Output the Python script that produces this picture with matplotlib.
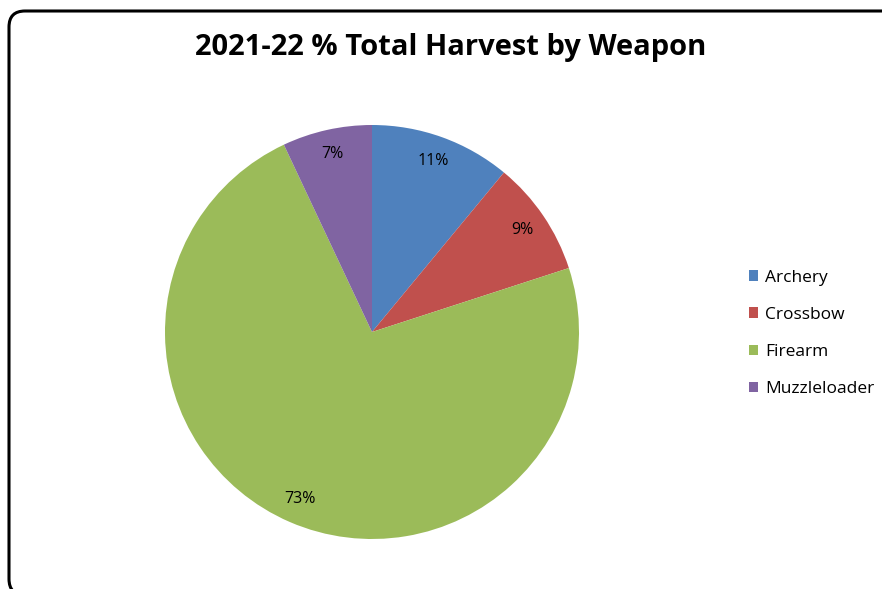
import matplotlib
matplotlib.use("Agg")
import matplotlib.pyplot as plt
from matplotlib.patches import FancyBboxPatch
from matplotlib.transforms import IdentityTransform

weapons = ["Archery", "Crossbow", "Firearm", "Muzzleloader"]
shares = [11, 9, 73, 7]
colors = ["#4F81BD", "#C0504D", "#9BBB59", "#8064A2"]

plt.rcParams['font.family'] = ['Open Sans', 'DejaVu Sans']

W, H = 882, 589
fig = plt.figure(figsize=(W / 100, H / 100), dpi=100)

# rounded frame in pixels, cut off at right and bottom like the screenshot
frame = FancyBboxPatch((9, -6), 892, H - 11 + 6,
                       boxstyle="round,pad=0,rounding_size=16",
                       transform=IdentityTransform(), facecolor="none",
                       edgecolor="black", linewidth=2.2, zorder=-1)
fig.patches.append(frame)

cx, cy, r = 372, 332, 207
ax = fig.add_axes([(cx - r) / W, (H - cy - r) / H, 2 * r / W, 2 * r / H])
wedges, texts, autotexts = ax.pie(shares, colors=colors, startangle=90, counterclock=False,
                                  autopct="%d%%", pctdistance=0.88, radius=1,
                                  textprops={"fontsize": 11.5, "color": "black"})
ax.set_xlim(-1, 1)
ax.set_ylim(-1, 1)
ax.set_aspect("equal")
ax.axis("off")

fig.text(451 / W, 1 - 48 / H, "2021-22 % Total Harvest by Weapon", ha="center", va="center",
         fontsize=21, fontweight="bold")

leg = fig.legend(wedges, weapons, loc="upper left", bbox_to_anchor=(733 / W, 1 - 254 / H),
                 frameon=False, fontsize=12.5, handlelength=0.55, handleheight=0.55,
                 handletextpad=0.4, labelspacing=1.22)

fig.savefig("out.png", dpi=100)
